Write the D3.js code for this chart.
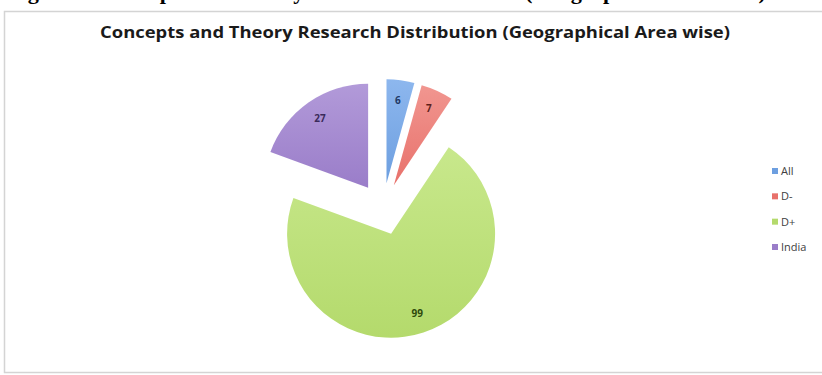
<!DOCTYPE html>
<html>
<head>
<meta charset="utf-8">
<script src="https://cdn.jsdelivr.net/npm/d3@7"></script>
<style>
  body { margin: 0; background: #fff; }
  svg { display: block; }
</style>
</head>
<body>
<script>
// Chart data
var categories = ["All", "D-", "D+", "India"];
var values = [6, 7, 99, 27];
var sliceColors = ["#6d9fe0", "#e8716b", "#b4da6c", "#9a7dc9"];
var sliceLight = ["#8db7ee", "#f19690", "#c8e88c", "#b29ad9"];
var labelColors = ["#1f3a66", "#5e1f1c", "#2e4a0c", "#3a2a5a"];

var svgWidth = 822;
var svgHeight = 375;

var svg = d3.select("body")
  .append("svg")
  .attr("width", svgWidth)
  .attr("height", svgHeight);

// cut-off caption line from the page above the chart (only descenders show)
svg.append("text")
  .attr("x", 8)
  .attr("y", -1)
  .attr("font-family", "Liberation Serif")
  .attr("font-weight", "bold")
  .attr("font-size", 22)
  .attr("textLength", 758)
  .attr("lengthAdjust", "spacingAndGlyphs")
  .attr("fill", "#000")
  .text("Figure 5: Concepts and Theory Research Distribution (Geographical Area wise)");

// chart frame
svg.append("rect")
  .attr("x", 4.5)
  .attr("y", 11.5)
  .attr("width", 830)
  .attr("height", 361)
  .attr("fill", "#fff")
  .attr("stroke", "#d4d4d4")
  .attr("stroke-width", 1.5);

// title
svg.append("text")
  .attr("x", 415)
  .attr("y", 38)
  .attr("text-anchor", "middle")
  .attr("font-family", "Open Sans")
  .attr("font-weight", "bold")
  .attr("font-size", 16)
  .attr("textLength", 630)
  .attr("lengthAdjust", "spacingAndGlyphs")
  .attr("fill", "#1a1a1a")
  .text("Concepts and Theory Research Distribution (Geographical Area wise)");

// gradients
var defs = svg.append("defs");
categories.forEach(function(c, i) {
  var g = defs.append("linearGradient")
    .attr("id", "grad" + i)
    .attr("x1", 0).attr("y1", 0)
    .attr("x2", 0).attr("y2", 1);
  g.append("stop").attr("offset", "0%").attr("stop-color", sliceLight[i]);
  g.append("stop").attr("offset", "100%").attr("stop-color", sliceColors[i]);
});

// pie
var cx = 383, cy = 209;
var radius = 104;
var explode = 26;

var pie = d3.pie().sort(null).value(d => d.value);
var data = categories.map((c, i) => ({ name: c, value: values[i], idx: i }));
var arcs = pie(data);

var arc = d3.arc().innerRadius(0).outerRadius(radius);
var labelArc = d3.arc().innerRadius(84).outerRadius(84);

var pieGroup = svg.append("g")
  .attr("transform", `translate(${cx}, ${cy})`);

var slices = pieGroup.selectAll("g.slice")
  .data(arcs)
  .enter()
  .append("g")
  .attr("class", "slice")
  .attr("transform", function(d) {
    var a = (d.startAngle + d.endAngle) / 2;
    return `translate(${Math.sin(a) * explode}, ${-Math.cos(a) * explode})`;
  });

slices.append("path")
  .attr("d", arc)
  .attr("fill", d => "url(#grad" + d.data.idx + ")");

slices.append("text")
  .attr("transform", d => `translate(${labelArc.centroid(d)})`)
  .attr("dy", "0.35em")
  .attr("text-anchor", "middle")
  .attr("font-family", "Open Sans")
  .attr("font-weight", "bold")
  .attr("font-size", 10)
  .attr("fill", d => labelColors[d.data.idx])
  .text(d => d.data.value);

// legend
var legendY = d3.scalePoint()
  .domain(categories)
  .range([171, 247]);

var legend = svg.selectAll("g.legend")
  .data(categories)
  .enter()
  .append("g")
  .attr("class", "legend")
  .attr("transform", d => `translate(772, ${legendY(d)})`);

legend.append("rect")
  .attr("x", 0)
  .attr("y", -3)
  .attr("width", 6)
  .attr("height", 6)
  .attr("fill", (d, i) => sliceColors[i]);

legend.append("text")
  .attr("x", 9)
  .attr("y", 0)
  .attr("dy", "0.35em")
  .attr("font-family", "Open Sans")
  .attr("font-size", 11)
  .attr("fill", "#404040")
  .text(d => d);
</script>
</body>
</html>
